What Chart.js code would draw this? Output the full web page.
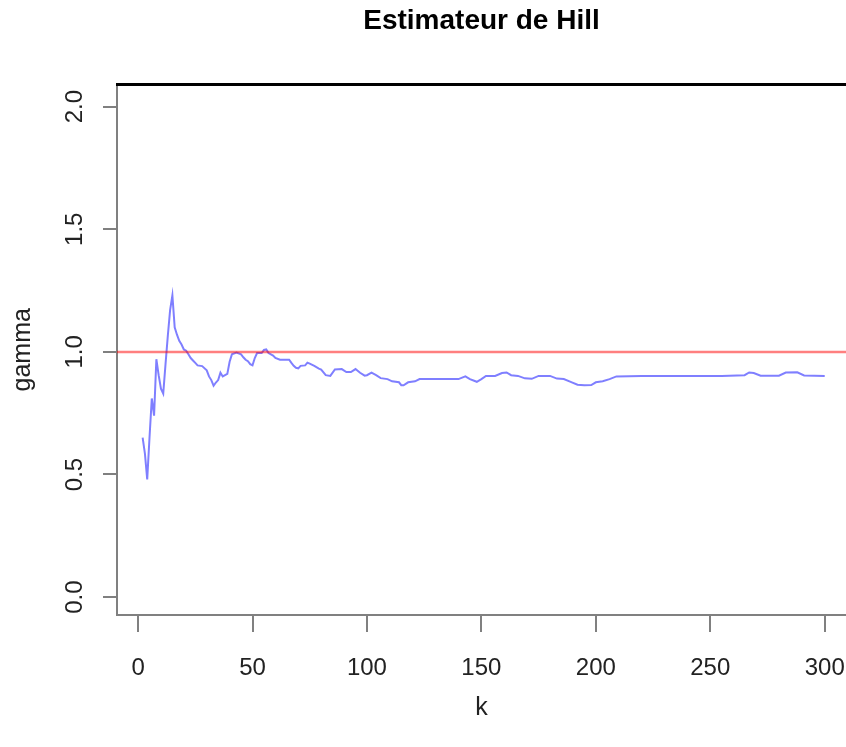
<!DOCTYPE html>
<html>
<head>
<meta charset="utf-8">
<script src="https://cdn.jsdelivr.net/npm/chart.js@4.4.1/dist/chart.umd.min.js"></script>
<style>
  html, body { margin: 0; padding: 0; background: #fff; }
  canvas { display: block; }
</style>
</head>
<body>
<canvas id="hillChart" width="846" height="747"></canvas>
<script>
// Hill estimator values
const ks = [2, 3, 4, 5, 6, 7, 8, 9, 10, 11, 12, 13, 14, 15, 16, 17, 18, 19, 20,
  21, 22, 23, 24, 25, 26, 28, 30, 31, 32, 33, 34, 35, 36, 37, 39, 40, 41, 43, 45,
  46, 47, 48, 49, 50, 51, 52, 54, 55, 56, 57, 59, 60, 62, 64, 66, 67, 68, 69, 70,
  71, 73, 74, 75, 77, 79, 80, 82, 84, 86, 89, 91, 93, 95, 97, 99, 100, 102, 104,
  106, 109, 111, 114, 115, 116, 118, 121, 123, 130, 135, 140, 143, 145, 148, 150,
  152, 156, 159, 161, 163, 166, 169, 172, 175, 180, 183, 186, 189, 192, 195, 198,
  200, 203, 206, 209, 220, 240, 255, 265, 267, 269, 272, 280, 283, 288, 291, 300];
const gammas = [0.65, 0.585, 0.48, 0.65, 0.81, 0.74, 0.97, 0.905, 0.85, 0.83, 0.95,
  1.065, 1.17, 1.23, 1.10, 1.07, 1.045, 1.03, 1.01, 1.005, 0.99, 0.975, 0.965, 0.955,
  0.945, 0.942, 0.925, 0.90, 0.885, 0.862, 0.875, 0.885, 0.915, 0.90, 0.91, 0.96,
  0.99, 0.997, 0.99, 0.978, 0.968, 0.962, 0.95, 0.945, 0.975, 0.995, 0.995, 1.008,
  1.01, 0.995, 0.985, 0.975, 0.968, 0.968, 0.968, 0.955, 0.943, 0.935, 0.933, 0.943,
  0.945, 0.956, 0.952, 0.943, 0.932, 0.928, 0.905, 0.902, 0.928, 0.93, 0.918, 0.918,
  0.93, 0.915, 0.903, 0.905, 0.915, 0.905, 0.893, 0.889, 0.88, 0.876, 0.864, 0.864,
  0.876, 0.88, 0.889, 0.889, 0.889, 0.889, 0.90, 0.889, 0.878, 0.889, 0.902, 0.902,
  0.914, 0.916, 0.905, 0.902, 0.892, 0.89, 0.902, 0.902, 0.891, 0.889, 0.878, 0.866,
  0.864, 0.865, 0.876, 0.88, 0.889, 0.90, 0.902, 0.902, 0.902, 0.905, 0.916, 0.914,
  0.903, 0.903, 0.916, 0.917, 0.904, 0.902];

const refLevel = 1;
const xRange = [-9.2, 309.3];
const yRange = [-0.073, 2.09];

const FONT = "'Liberation Sans', Arial, sans-serif";

// black line along the top of the plot frame
const topFrame = {
    id: 'topFrame',
    afterDraw(chart) {
        const { ctx, chartArea } = chart;
        ctx.save();
        ctx.strokeStyle = '#000';
        ctx.lineWidth = 3;
        ctx.beginPath();
        ctx.moveTo(chartArea.left - 1, chartArea.top);
        ctx.lineTo(chartArea.right, chartArea.top);
        ctx.stroke();
        ctx.restore();
    }
};

new Chart(document.getElementById('hillChart'), {
    type: 'line',
    data: {
        datasets: [{
            label: 'reference',
            data: xRange.map(x => ({ x: x, y: refLevel })),
            borderColor: 'rgba(255, 0, 0, 0.5)',
            borderWidth: 2.5,
            pointRadius: 0
        }, {
            label: 'gamma',
            data: ks.map((k, i) => ({ x: k, y: gammas[i] })),
            borderColor: 'rgba(0, 0, 255, 0.5)',
            borderWidth: 2,
            pointRadius: 0,
            tension: 0
        }]
    },
    options: {
        responsive: false,
        animation: false,
        devicePixelRatio: 1,
        layout: { padding: 0 },
        plugins: {
            legend: { display: false },
            tooltip: { enabled: false },
            title: {
                display: true,
                fullSize: false,
                text: 'Estimateur de Hill',
                color: '#000',
                font: { family: FONT, size: 28, weight: 'bold' },
                padding: { top: 4, bottom: 47 }
            }
        },
        scales: {
            x: {
                type: 'linear',
                min: xRange[0],
                max: xRange[1],
                ticks: {
                    stepSize: 50,
                    includeBounds: false,
                    maxRotation: 0,
                    autoSkip: false,
                    padding: 22,
                    color: '#222',
                    font: { family: FONT, size: 24 }
                },
                grid: { drawOnChartArea: false, tickLength: 17, color: '#808080', lineWidth: 2 },
                border: { color: '#808080', width: 2 },
                title: {
                    display: true,
                    text: 'k',
                    color: '#222',
                    font: { family: FONT, size: 25 },
                    padding: { top: 0, bottom: 24 }
                },
                afterFit(s) { s.height = 132; s.paddingLeft = 0; s.paddingRight = 0; }
            },
            y: {
                min: yRange[0],
                max: yRange[1],
                ticks: {
                    stepSize: 0.5,
                    includeBounds: false,
                    minRotation: 90,
                    maxRotation: 90,
                    crossAlign: 'center',
                    padding: 11,
                    color: '#222',
                    font: { family: FONT, size: 24 },
                    callback: v => v.toFixed(1)
                },
                grid: { drawOnChartArea: false, tickLength: 14, color: '#808080', lineWidth: 2 },
                border: { color: '#808080', width: 2 },
                title: {
                    display: true,
                    text: 'gamma',
                    color: '#222',
                    font: { family: FONT, size: 25 },
                    padding: { top: 8, bottom: 0 }
                },
                afterFit(s) { s.width = 117; s.paddingTop = 0; s.paddingBottom = 0; }
            }
        }
    },
    plugins: [topFrame]
});
</script>
</body>
</html>
